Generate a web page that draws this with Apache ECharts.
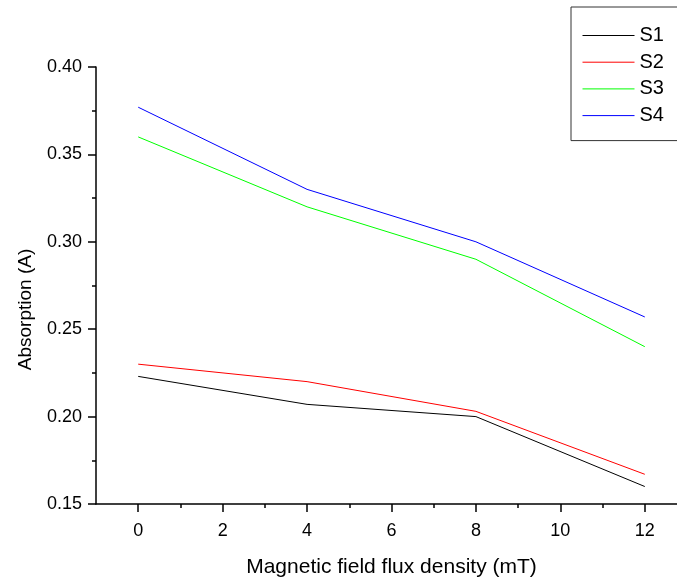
<!DOCTYPE html>
<html>
<head>
<meta charset="utf-8">
<script src="https://cdn.jsdelivr.net/npm/echarts@6/dist/echarts.min.js"></script>
<style>html,body{margin:0;padding:0;background:#fff}#c{width:677px;height:577px}</style>
</head>
<body>
<div id="c"></div>
<script>
const xValues = [0, 4, 8, 12];
const s1 = [0.223, 0.207, 0.200, 0.160];
const s2 = [0.230, 0.220, 0.203, 0.167];
const s3 = [0.360, 0.320, 0.290, 0.240];
const s4 = [0.377, 0.330, 0.300, 0.257];
const seriesNames = ['S1', 'S2', 'S3', 'S4'];
const seriesColors = ['#000000', '#ff0000', '#00ff00', '#0000ff'];
const xTickLabels = [0, 2, 4, 6, 8, 10, 12];
const xMinorTicks = [1, 3, 5, 7, 9, 11];

const allData = [s1, s2, s3, s4];
const font = 'Liberation Sans, Arial, sans-serif';
const chart = echarts.init(document.getElementById('c'), null, {renderer: 'canvas'});
const axisLine = {show: true, onZero: false, lineStyle: {color: '#000', width: 1.5}};
chart.setOption({
  animation: false,
  backgroundColor: '#fff',
  grid: {left: 96, top: 67, bottom: 73, right: -10, containLabel: false, outerBoundsMode: 'none'},
  legend: {
    orient: 'vertical', left: 571, top: 7,
    padding: [18.5, 16, 15, 11],
    borderColor: '#333', borderWidth: 1,
    itemWidth: 52, itemHeight: 20, itemGap: 6.7,
    itemStyle: {opacity: 0},
    lineStyle: {width: 1},
    textStyle: {fontFamily: font, fontSize: 20, color: '#000', lineHeight: 20},
    data: seriesNames
  },
  xAxis: [{
    type: 'value', min: -1, max: 13,
    name: 'Magnetic field flux density (mT)', nameLocation: 'middle', nameGap: 53,
    nameTextStyle: {fontFamily: font, fontSize: 21, color: '#000'},
    axisLine: axisLine,
    axisTick: {show: true, length: 8, lineStyle: {color: '#000', width: 1.5}, customValues: xTickLabels},
    axisLabel: {fontFamily: font, fontSize: 18, color: '#000', margin: 18, customValues: xTickLabels},
    splitLine: {show: false}
  }, {
    type: 'value', min: -1, max: 13, position: 'bottom', gridIndex: 0,
    axisLine: {show: false, onZero: false},
    axisTick: {show: true, length: 4, lineStyle: {color: '#000', width: 1.5}, customValues: xMinorTicks},
    axisLabel: {show: false},
    splitLine: {show: false}
  }],
  yAxis: {
    type: 'value', min: 0.15, max: 0.40, interval: 0.05,
    name: 'Absorption (A)', nameLocation: 'middle', nameGap: 61,
    nameTextStyle: {fontFamily: font, fontSize: 19, color: '#000', padding: [0, 48, 0, 0]},
    axisLine: axisLine,
    axisTick: {show: true, length: 8, lineStyle: {color: '#000', width: 1.5}},
    minorTick: {show: true, splitNumber: 2, length: 4, lineStyle: {color: '#000', width: 1.5}},
    axisLabel: {fontFamily: font, fontSize: 18, color: '#000', margin: 14, formatter: v => v.toFixed(2)},
    splitLine: {show: false}
  },
  series: allData.map((d, i) => ({
    name: seriesNames[i], type: 'line', symbol: 'none',
    data: xValues.map((x, j) => [x, d[j]]),
    lineStyle: {color: seriesColors[i], width: 1},
    itemStyle: {color: seriesColors[i]}
  }))
});
</script>
</body>
</html>
